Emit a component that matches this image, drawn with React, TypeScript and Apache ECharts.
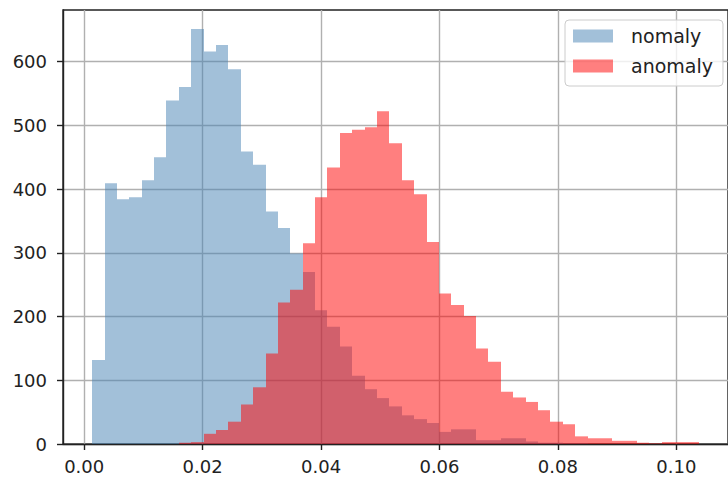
import React, { useEffect, useRef } from "react";
import * as echarts from "echarts";

// histogram bins (shared edges)
const binStart = 0.001345;
const binWidth = 0.0020915;

// counts per bin
const nomalyCounts = [
  132, 409, 384, 387, 414, 450, 539, 560, 651, 616,
  626, 588, 459, 438, 365, 339, 299, 270, 210, 184,
  153, 107, 86, 72, 59, 45, 39, 33, 19, 23,
  23, 6, 6, 9, 9, 4, 2, 2, 1, 1,
  0, 0, 0, 0, 0, 0, 0, 0, 0,
];
const anomalyCounts = [
  0, 0, 0, 0, 0, 0, 0, 2, 3, 16,
  22, 35, 62, 89, 142, 222, 242, 315, 387, 434,
  488, 493, 497, 522, 472, 414, 392, 317, 236, 218,
  201, 150, 129, 82, 73, 66, 53, 35, 31, 12,
  9, 9, 5, 5, 2, 1, 3, 3, 3,
];

const seriesNames = ["nomaly", "anomaly"];
const xTicks = [0, 0.02, 0.04, 0.06, 0.08, 0.1];
const yTicks = [0, 100, 200, 300, 400, 500, 600];

const FONT = "DejaVu Sans";
const TEXT = "#222222";
const BLUE = "rgba(70,130,180,0.5)";
const RED = "rgba(255,0,0,0.5)";

function toItems(counts: number[]) {
  const out: number[][] = [];
  counts.forEach((c, i) => {
    if (c > 0) out.push([binStart + i * binWidth, binStart + (i + 1) * binWidth, c]);
  });
  return out;
}

function makeRender(fill: string) {
  return (params: any, api: any) => {
    const x0 = api.value(0);
    const x1 = api.value(1);
    const c = api.value(2);
    const a = api.coord([x0, c]);
    const b = api.coord([x1, 0]);
    const left = Math.round(a[0]);
    const right = Math.round(b[0]);
    return {
      type: "rect",
      shape: { x: left, y: a[1], width: right - left, height: b[1] - a[1] },
      style: { fill },
    };
  };
}

export default function App() {
  const ref = useRef<HTMLDivElement>(null);
  useEffect(() => {
    if (!ref.current) return;
    const chart = echarts.init(ref.current, undefined, { renderer: "svg" });
    chart.setOption({
      animation: false,
      backgroundColor: "#ffffff",
      grid: {
        left: 63,
        top: 10,
        right: -3,
        bottom: 33,
        show: true,
        borderColor: TEXT,
        borderWidth: 1.4,
        backgroundColor: "transparent",
      },
      legend: {
        orient: "vertical",
        left: 565,
        top: 20,
        data: seriesNames.map((n) => ({ name: n, icon: "rect" })),
        itemWidth: 40,
        itemHeight: 13,
        itemGap: 11,
        padding: [6.5, 10, 10.5, 8],
        backgroundColor: "rgba(255,255,255,0.8)",
        borderColor: "#cccccc",
        borderWidth: 1,
        borderRadius: 4,
        textStyle: {
          fontFamily: FONT,
          fontSize: 19,
          color: TEXT,
          padding: [0, 0, 0, 13],
        },
      },
      xAxis: {
        type: "value",
        min: -0.00358,
        max: 0.10873,
        axisLine: { show: true, onZero: false, lineStyle: { color: TEXT, width: 1.4 } },
        axisTick: {
          show: true,
          length: 6,
          customValues: xTicks,
          lineStyle: { color: TEXT, width: 1.4 },
        },
        axisLabel: {
          customValues: xTicks,
          formatter: (v: number) => v.toFixed(2),
          fontFamily: FONT,
          fontSize: 18,
          color: TEXT,
          margin: 13,
        },
        splitLine: { show: true, lineStyle: { color: "#b0b0b0", width: 1.4 } },
      },
      yAxis: {
        type: "value",
        min: 0,
        max: 681,
        axisLine: { show: true, onZero: false, lineStyle: { color: TEXT, width: 1.4 } },
        axisTick: {
          show: true,
          length: 6,
          customValues: yTicks,
          lineStyle: { color: TEXT, width: 1.4 },
        },
        axisLabel: {
          customValues: yTicks,
          fontFamily: FONT,
          fontSize: 18,
          color: TEXT,
          margin: 16,
        },
        splitLine: { show: true, lineStyle: { color: "#b0b0b0", width: 1.4 } },
      },
      series: [
        {
          type: "custom",
          name: seriesNames[0],
          renderItem: makeRender(BLUE),
          encode: { x: [0, 1], y: 2 },
          data: toItems(nomalyCounts),
          itemStyle: { color: BLUE },
          z: 2,
        },
        {
          type: "custom",
          name: seriesNames[1],
          renderItem: makeRender(RED),
          encode: { x: [0, 1], y: 2 },
          data: toItems(anomalyCounts),
          itemStyle: { color: RED },
          z: 3,
        },
      ],
    });
    return () => chart.dispose();
  }, []);
  return (
    <div
      ref={ref}
      style={{ position: "fixed", left: 0, top: 0, width: 728, height: 477, background: "#fff" }}
    />
  );
}
